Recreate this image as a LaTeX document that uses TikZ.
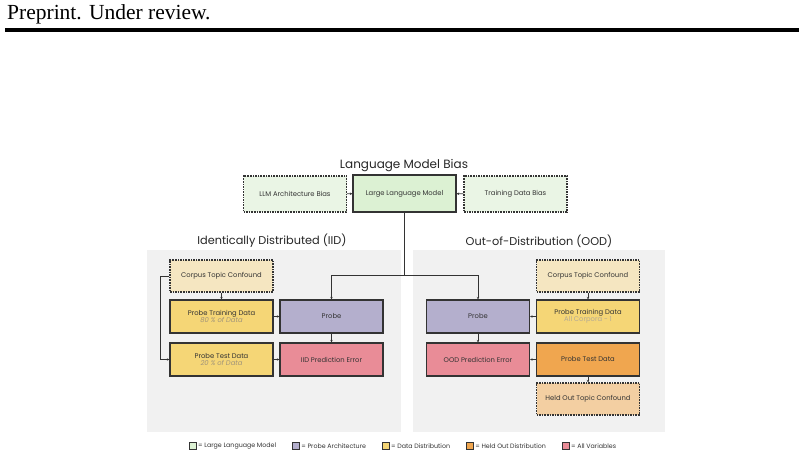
\documentclass[tikz,border=0pt]{standalone}
\usepackage{fontspec}
\setmainfont{Poppins}
\newfontfamily\headfont{Liberation Serif}
\usetikzlibrary{arrows.meta,positioning,calc}

\definecolor{llmfill}{HTML}{DCF1D3}
\definecolor{biasfill}{HTML}{EAF5E5}
\definecolor{panelgray}{HTML}{F1F1F1}
\definecolor{conffill}{HTML}{F5E6C1}
\definecolor{datafill}{HTML}{F5D676}
\definecolor{probefill}{HTML}{B4AFCD}
\definecolor{errfill}{HTML}{E98C97}
\definecolor{heldfill}{HTML}{F0A64F}
\definecolor{heldconffill}{HTML}{F3CFA2}
\definecolor{boxline}{HTML}{333333}
\definecolor{subtext}{HTML}{A0947A}

\tikzset{
  box/.style={draw=boxline,line width=1.1pt,minimum width=103pt,minimum height=33pt,
    inner sep=1pt,align=center,text=boxline,font=\fontsize{6.8}{8}\selectfont},
  dashbox/.style={box,dash pattern=on 1.6pt off 1pt},
  conn/.style={draw=boxline,line width=0.8pt,-{Stealth[length=2.5pt,width=2.5pt]}},
  panel/.style={fill=panelgray,draw=none},
  paneltitle/.style={font=\fontsize{11.3}{13}\selectfont,text=black!85},
  legsq/.style={draw=boxline,line width=0.8pt,minimum size=7pt,inner sep=0pt},
  legtext/.style={font=\fontsize{6.3}{7}\selectfont,text=boxline,inner sep=1pt}
}

\begin{document}
\begin{tikzpicture}[x=1pt,y=-1pt]
    \useasboundingbox[fill=white] (0,0) rectangle (804,456);

    % page header
    \node[anchor=base west,inner sep=0pt,font=\headfont\fontsize{21.5}{24}\selectfont] (header) at (7,19) {Preprint. Under review.};
    \fill (5,28) rectangle (799,31.5);

    % panels
    \fill[panel] (147,250) rectangle (401,432);
    \fill[panel] (413,250) rectangle (665,432);
    \node[paneltitle] (iidtitle) at (272,241) {Identically Distributed (IID)};
    \node[paneltitle] (oodtitle) at (539,241) {Out-of-Distribution (OOD)};

    % language model bias
    \node[paneltitle,font=\fontsize{12}{14}\selectfont] (lmtitle) at (404,166) {Language Model Bias};
    \node[box,fill=llmfill,line width=1.4pt,minimum height=37pt] (llm) at (404.5,193.5) {Large Language Model};
    \node[dashbox,fill=biasfill,minimum height=36pt] (archbias) at (295,194) {LLM Architecture Bias};
    \node[dashbox,fill=biasfill,minimum height=36pt] (databias) at (515.5,194) {Training Data Bias};
    \draw[conn] (archbias) -- (llm);
    \draw[conn] (databias) -- (llm);

    % split to both probes
    \coordinate (split) at (404.5,275);

    % IID side
    \node[dashbox,fill=conffill,minimum height=32pt] (iidconf) at (221.5,276) {Corpus Topic Confound};
    \node[box,fill=datafill] (iidtrain) at (221.5,316.5) {Probe Training Data\\[-1.5pt]{\itshape\color{subtext}80 \% of Data}};
    \node[box,fill=datafill] (iidtest) at (221.5,359.5) {Probe Test Data\\[-1.5pt]{\itshape\color{subtext}20 \% of Data}};
    \node[box,fill=probefill] (iidprobe) at (331.5,316.5) {Probe};
    \node[box,fill=errfill] (iiderr) at (331.5,359.5) {IID Prediction Error};
    \draw[conn] (iidconf) -- (iidtrain);
    \draw[conn] (iidconf.west) -- ++(-9,0) |- (iidtest.west);
    \draw[conn] (iidtrain) -- (iidprobe);
    \draw[conn] (iidtest) -- (iiderr);
    \draw[conn] (iidprobe) -- (iiderr);

    % OOD side
    \node[box,fill=probefill] (oodprobe) at (478,316.5) {Probe};
    \node[box,fill=errfill] (ooderr) at (478,359.5) {OOD Prediction Error};
    \node[dashbox,fill=conffill,minimum height=32pt] (oodconf) at (588,276) {Corpus Topic Confound};
    \node[box,fill=datafill] (oodtrain) at (588,316.5) {Probe Training Data\\[-1.5pt]{\color{subtext!80}All Corpora - 1}};
    \node[box,fill=heldfill] (oodtest) at (588,359.5) {Probe Test Data};
    \node[dashbox,fill=heldconffill,minimum height=32pt] (heldconf) at (588,399) {Held Out Topic Confound};
    \draw[conn] (oodconf) -- (oodtrain);
    \draw[conn] (oodtrain) -- (oodprobe);
    \draw[conn] (oodtest) -- (ooderr);
    \draw[conn] (oodprobe) -- (ooderr);
    \draw[conn] (oodtest) -- (heldconf);

    % model to probes
    \draw[draw=boxline,line width=0.8pt] (llm) -- (split);
    \draw[conn] (split) -| (iidprobe.north);
    \draw[conn] (split) -| (oodprobe.north);

    % legend
    \node[legsq,fill=llmfill] (leg1) at (193,446) {};
    \node[legtext,right=0pt of leg1] (legt1) {= Large Language Model};
    \node[legsq,fill=probefill,right=15pt of legt1] (leg2) {};
    \node[legtext,right=0pt of leg2] (legt2) {= Probe Architecture};
    \node[legsq,fill=datafill,right=15pt of legt2] (leg3) {};
    \node[legtext,right=0pt of leg3] (legt3) {= Data Distribution};
    \node[legsq,fill=heldfill,right=15pt of legt3] (leg4) {};
    \node[legtext,right=0pt of leg4] (legt4) {= Held Out Distribution};
    \node[legsq,fill=errfill,right=15pt of legt4] (leg5) {};
    \node[legtext,right=0pt of leg5] (legt5) {= All Variables};
\end{tikzpicture}
\end{document}
